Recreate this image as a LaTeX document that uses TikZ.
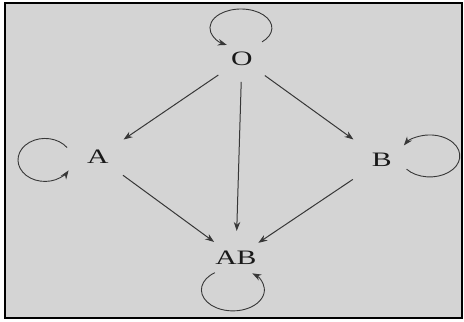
\documentclass[tikz,border=0pt]{standalone}
\usepackage{graphicx}
\usepackage{fontspec}
\setmainfont{Liberation Serif}
\usetikzlibrary{arrows.meta,shapes.geometric}
\definecolor{bg}{RGB}{212,212,212}
\definecolor{ln}{RGB}{55,55,55}
\definecolor{tx}{RGB}{25,25,25}
\newcommand\wtxt[1]{\scalebox{1.45}[1]{#1}}
\begin{document}
\begin{tikzpicture}[x=1pt,y=1pt,
  lbl/.style={font=\fontsize{20.5}{23}\selectfont, text=tx, inner sep=0pt, outer sep=0pt},
  arr/.style={draw=ln, line width=1pt, -{Stealth[length=9pt,width=6.5pt]}},
  lp/.style={draw=ln, line width=0.9pt, -{Stealth[length=9pt,width=6.5pt]}}]
  % page and frame
  \fill[white] (0,0) rectangle (464,-322);
  \filldraw[fill=bg, draw=black, line width=2pt] (5,-3) rectangle (462,-318);
  % nodes
  \node[lbl, ellipse, minimum width=66pt, minimum height=46pt] (O) at (242,-59) {\wtxt{O}};
  \node[lbl, circle, minimum size=62pt] (A) at (98,-157) {\wtxt{A}};
  \node[lbl, circle, minimum size=70pt] (B) at (382,-160) {\wtxt{B}};
  \node[lbl, circle, minimum size=54pt] (AB) at (236,-258) {\wtxt{AB}};
  % edges
  \draw[arr] (O) -- (A);
  \draw[arr] (O) -- (B);
  \draw[arr] (O) -- (AB);
  \draw[arr] (A) -- (AB);
  \draw[arr] (B) -- (AB);
  % loop centres
  \coordinate (Ol) at ([shift={(-1,31)}]O.center);
  \coordinate (Al) at ([shift={(-53,-3)}]A.center);
  \coordinate (Bl) at ([shift={(48,4)}]B.center);
  \coordinate (ABl) at ([shift={(-3,-32)}]AB.center);
  % self loops
  \draw[lp] ([shift={(-47:31 and 19)}]Ol) arc[start angle=-47, end angle=243, x radius=31, y radius=19];
  \draw[lp] ([shift={(35:27 and 21.5)}]Al) arc[start angle=35, end angle=331, x radius=27, y radius=21.5];
  \draw[lp] ([shift={(219:30 and 21)}]Bl) arc[start angle=219, end angle=510, x radius=30, y radius=21];
  \draw[lp] ([shift={(125:31.5 and 21)}]ABl) arc[start angle=125, end angle=412, x radius=31.5, y radius=21];
\end{tikzpicture}
\end{document}
